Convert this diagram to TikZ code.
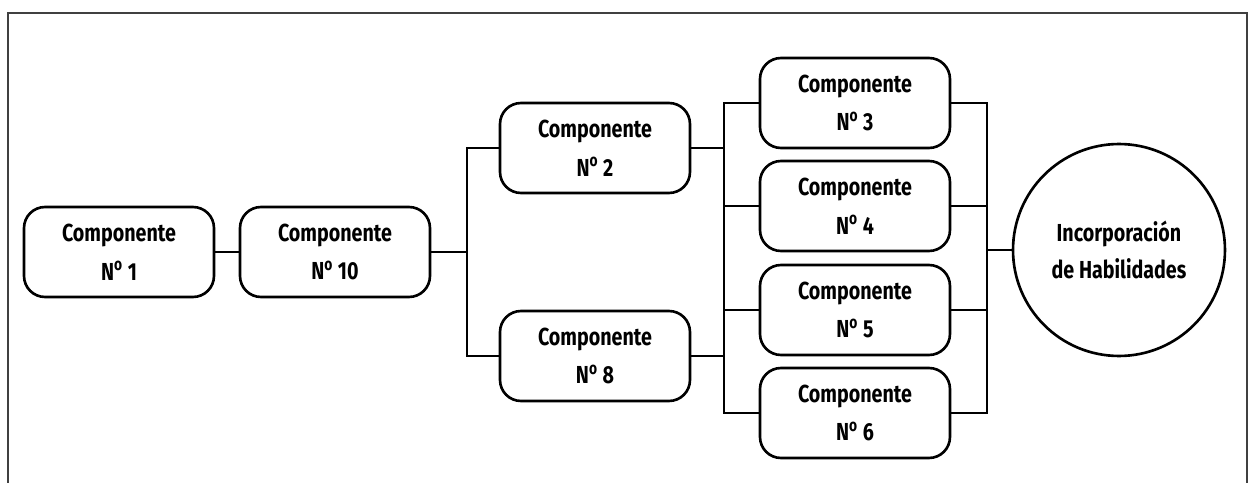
\documentclass[tikz,border=0pt]{standalone}
\usepackage{fontspec}
\usepackage{tikz}
\newfontfamily\compfont{Fira Sans}[FakeStretch=0.8]
\newcommand{\numo}{N\textsuperscript{o}}

\tikzset{
  comp/.style = {draw, rounded corners = 0.42cm, line width = 1.5pt,
                 minimum width = 3.8cm, minimum height = 1.8cm,
                 align = center, font = \compfont\bfseries\fontsize{14}{22}\selectfont},
  hab/.style = {draw, circle, line width = 1.5pt, minimum size = 4.24cm,
                align = center, font = \compfont\bfseries\fontsize{14}{21}\selectfont},
  link/.style = {line width = 1.1pt}
}

\begin{document}
\begin{tikzpicture}[x = 0.02cm, y = -0.02cm]
      \useasboundingbox (0, 0) rectangle (1249, 483);
      % marco
      \draw [line width = 1.1pt, black!75] (8, 483) -- (8, 13) -- (1247, 13) -- (1247, 483);
      % componentes
      \node [comp] (c1) at (119, 252) {Componente\\\numo\ 1};
      \node [comp] (c10) at (335, 252) {Componente\\\numo\ 10};
      \node [comp] (c2) at (595, 148) {Componente\\\numo\ 2};
      \node [comp] (c8) at (595, 356) {Componente\\\numo\ 8};
      \foreach \n/\y in {3/103, 4/206, 5/310, 6/413}{
        \node [comp] (c\n) at (855, \y) {Componente\\\numo\ \n};
      }
      \node [hab] (hab) at (1119, 250) {Incorporación\\de Habilidades};
      % uniones
      \coordinate (ja) at (467, 252);
      \coordinate (jb) at (724, 148);
      \coordinate (jc) at (987, 250);
      \draw [link] (c1) -- (c10);
      \draw [link] (c10.east) -- (ja);
      \draw [link] (c2.west) -| (ja) |- (c8.west);
      \draw [link] (c2.east) -- (jb);
      \draw [link] (c3.west) -| (jb) |- (c6.west);
      \draw [link] (c3.east) -| (jc) |- (c6.east);
      \foreach \n in {4, 5}{
        \draw [link] (c\n.west) -- (c\n.west -| jb);
        \draw [link] (c\n.east) -- (c\n.east -| jc);
      }
      \draw [link] (c8.east) -- (c8.east -| jb);
      \draw [link] (jc) -- (hab.west);
    \end{tikzpicture}
\end{document}
